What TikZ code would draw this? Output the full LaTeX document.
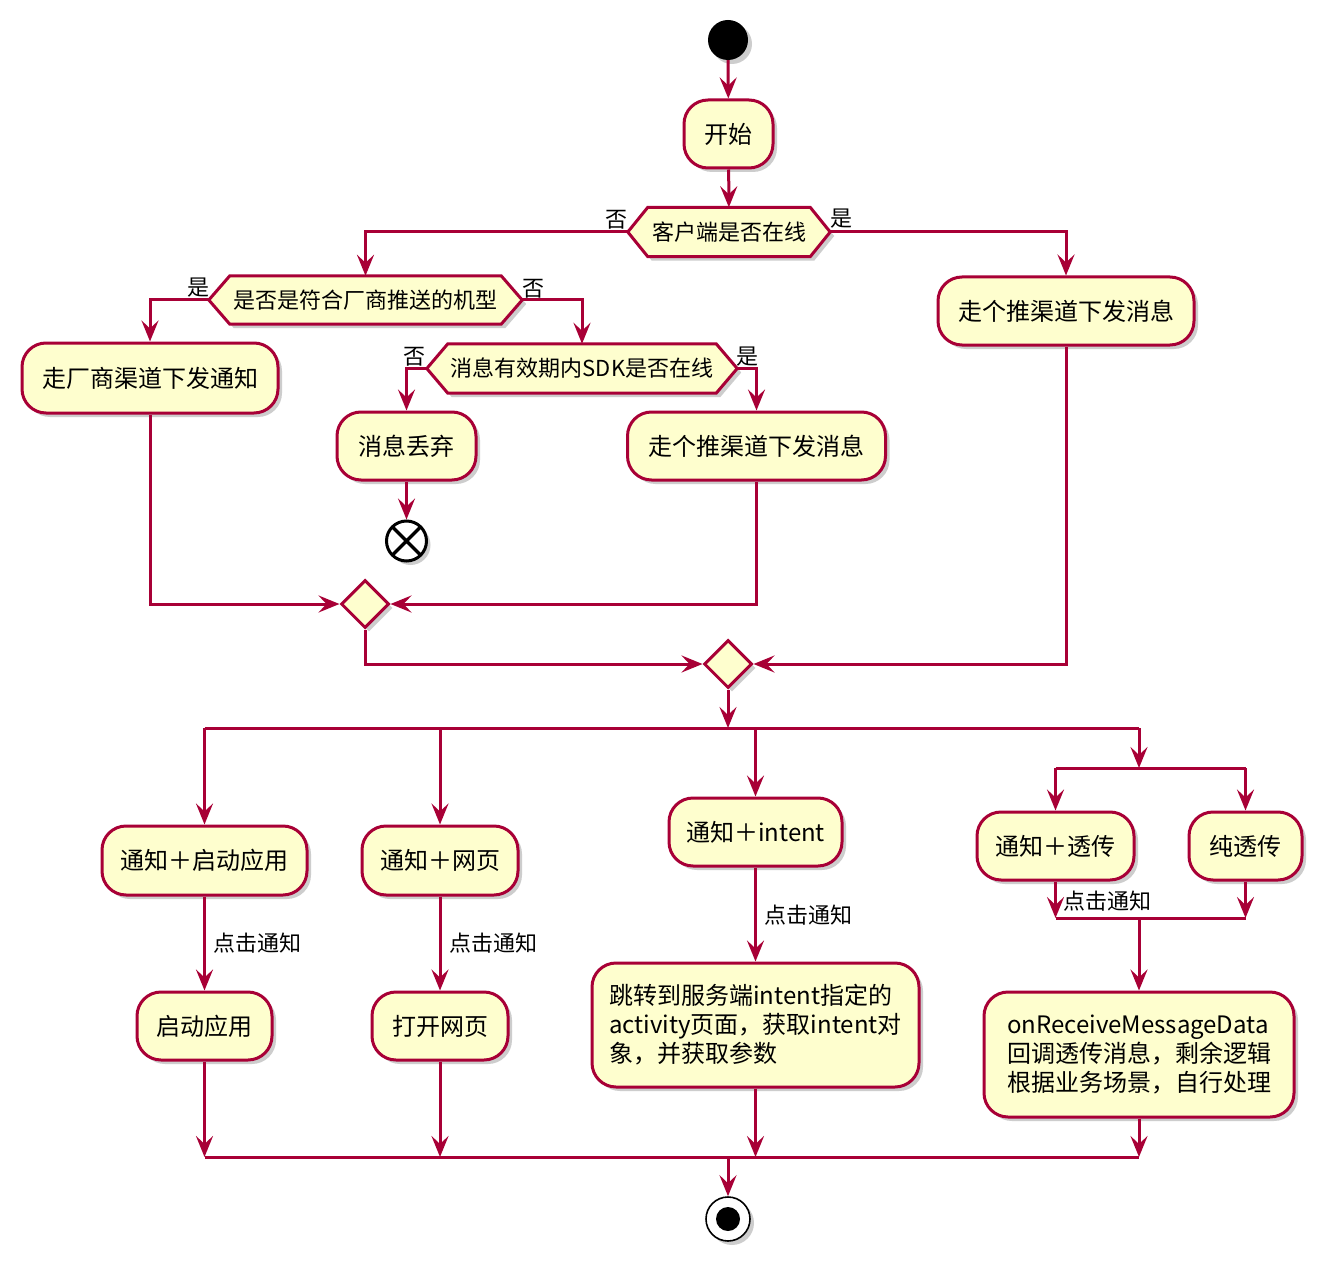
\documentclass[tikz,border=0pt]{standalone}
\usepackage{fontspec}
\setmainfont{Noto Sans CJK SC}
\usetikzlibrary{arrows.meta,shapes.geometric,shadows,calc}
\definecolor{pred}{HTML}{A80036}
\definecolor{pfill}{HTML}{FEFECE}
\pgfdeclarelayer{back}
\pgfdeclarelayer{bg}
\pgfsetlayers{back,bg,main}
\newcommand\hexshape[2]{%
  \begin{pgfonlayer}{bg}
  \path[hexsty] (#1.west) -- ([xshift=#2pt]#1.north west) -- ([xshift=-#2pt]#1.north east) -- (#1.east) -- ([xshift=-#2pt]#1.south east) -- ([xshift=#2pt]#1.south west) -- cycle;
  \end{pgfonlayer}}
\begin{document}
\begin{tikzpicture}[x=1pt,y=-1pt,
  shad/.style={drop shadow={shadow xshift=4pt,shadow yshift=-4pt,opacity=0.28,fill=black!70}},
  act/.style={draw=pred, fill=pfill, line width=3pt, rounded corners=24pt, shad, font=\fontsize{24}{29}\selectfont, inner sep=0pt, align=left},
  dec/.style={inner sep=0pt, font=\fontsize{22}{26}\selectfont},
  hexsty/.style={draw=pred, fill=pfill, line width=3pt, line join=miter, shad},
  merge/.style={diamond, draw=pred, fill=pfill, line width=3pt, minimum width=48pt, minimum height=48pt, inner sep=0pt, shad},
  ln/.style={draw=pred, line width=3pt},
  arr/.style={ln, -{Stealth[length=21pt,width=17pt,inset=8pt]}},
  lab/.style={inner sep=0pt, font=\fontsize{22}{26}\selectfont},
]
\begin{pgfonlayer}{back}
\fill[white] (0,0) rectangle (1333,1273);
\end{pgfonlayer}
\useasboundingbox (0,0) rectangle (1333,1273);

% start
\node[circle, fill=black, minimum size=40pt, inner sep=0pt, shad] (start) at (728,40) {};
\node[act, minimum width=89pt, minimum height=68pt] (s1) at (728.5,134) {开始};
\node[dec, minimum width=202pt, minimum height=49pt] (d1) at (729,232) {客户端是否在线};
\hexshape{d1}{20}
\node[act, minimum width=256pt, minimum height=68pt] (r1) at (1066,311) {走个推渠道下发消息};
\node[dec, minimum width=313pt, minimum height=48pt] (d2) at (365.5,300) {是否是符合厂商推送的机型};
\hexshape{d2}{21}
\node[act, minimum width=256pt, minimum height=70pt] (l1) at (150,378) {走厂商渠道下发通知};
\node[dec, minimum width=310pt, minimum height=49pt] (d3) at (582,368.5) {消息有效期内SDK是否在线};
\hexshape{d3}{21}
\node[act, minimum width=139pt, minimum height=68pt] (l2) at (406.5,446) {消息丢弃};
\node[act, minimum width=258pt, minimum height=68pt] (l3) at (756.5,446) {走个推渠道下发消息};
\node[circle, draw=black, line width=3pt, fill=white, minimum size=40pt, inner sep=0pt, shad,
  path picture={\draw[line width=3.2pt] (path picture bounding box.north west) -- (path picture bounding box.south east)
                 (path picture bounding box.north east) -- (path picture bounding box.south west);}] (x1) at (406.5,541) {};
\node[merge] (m1) at (365,604) {};
\node[merge] (m2) at (728,664) {};

% labels
\node[lab] (n1) at (616,220) {否};
\node[lab] (y1) at (841,219) {是};
\node[lab] (y2) at (198,288) {是};
\node[lab] (n2) at (533,289) {否};
\node[lab] (n3) at (414,357) {否};
\node[lab] (y3) at (747,357) {是};

% top connectors
\draw[arr] (start) -- (s1);
\draw[arr] (s1) -- (d1);
\draw[arr] (d1.west) -| (d2.north);
\draw[arr] (d1.east) -| (r1.north);
\draw[arr] (d2.west) -| (l1.north);
\draw[arr] (d2.east) -| (d3.north);
\draw[arr] (d3.west) -| (l2.north);
\draw[arr] (d3.east) -| (l3.north);
\draw[arr] (l2) -- (x1);
\draw[arr] (l1.south) |- (m1.west);
\draw[arr] (l3.south) |- (m1.east);
\draw[arr] (m1.south) |- (m2.west);
\draw[arr] (r1.south) |- (m2.east);

% fork
\coordinate (fk) at (728,728);
\coordinate (f1) at (204.5,728);
\coordinate (f2) at (440,728);
\coordinate (f3) at (755.5,728);
\coordinate (f4) at (1139,728);
\draw[arr] (m2.south) -- (fk);
\draw[ln] (f1) -- (f4);

\node[act, minimum width=205pt, minimum height=69pt] (a1) at (204.5,860.5) {通知＋启动应用};
\node[act, minimum width=156pt, minimum height=69pt] (a2) at (440,860.5) {通知＋网页};
\node[act, minimum width=173pt, minimum height=68pt] (a3) at (755.5,832) {通知＋intent};
\node[act, minimum width=157pt, minimum height=68pt] (a4) at (1055.5,846) {通知＋透传};
\node[act, minimum width=113pt, minimum height=68pt] (a5) at (1245.5,846) {纯透传};

\node[act, minimum width=135pt, minimum height=68pt] (b1) at (204.5,1026) {启动应用};
\node[act, minimum width=136pt, minimum height=68pt] (b2) at (440,1026) {打开网页};
\node[act, minimum width=327pt, minimum height=124pt] (b3) at (755.5,1025) {跳转到服务端intent指定的\\activity页面，获取intent对\\象，并获取参数};
\node[act, minimum width=310pt, minimum height=125pt] (b4) at (1139,1054.5) {onReceiveMessageData\\回调透传消息，剩余逻辑\\根据业务场景，自行处理};

\draw[arr] (f1) -- (a1.north);
\draw[arr] (f2) -- (a2.north);
\draw[arr] (f3) -- (a3.north);

% inner fork (col 4)
\coordinate (g0) at (1139,768);
\coordinate (g1) at (1055.5,768);
\coordinate (g2) at (1245.5,768);
\draw[arr] (f4) -- (g0);
\draw[ln] (g1) -- (g2);
\draw[arr] (g1) -- (a4.north);
\draw[arr] (g2) -- (a5.north);
\coordinate (h1) at (1055.5,918);
\coordinate (h2) at (1245.5,918);
\coordinate (h0) at (1139,918);
\draw[arr] (a4.south) -- (h1);
\draw[arr] (a5.south) -- (h2);
\draw[ln] (h1) -- (h2);
\draw[arr] (h0) -- (b4.north);

\draw[arr] (a1.south) -- (b1.north);
\draw[arr] (a2.south) -- (b2.north);
\draw[arr] (a3.south) -- (b3.north);

\node[lab, anchor=west] (c1) at (213,943) {点击通知};
\node[lab, anchor=west] (c2) at (449,943) {点击通知};
\node[lab, anchor=west] (c3) at (764,915) {点击通知};
\node[lab, anchor=west] (c4) at (1063,901) {点击通知};

% join
\coordinate (j1) at (204.5,1157);
\coordinate (j2) at (440,1157);
\coordinate (j3) at (755.5,1157);
\coordinate (j4) at (1139,1157);
\coordinate (jc) at (728,1157);
\draw[arr] (b1.south) -- (j1);
\draw[arr] (b2.south) -- (j2);
\draw[arr] (b3.south) -- (j3);
\draw[arr] (b4.south) -- (j4);
\draw[ln] (j1) -- (j4);

\node[circle, draw=black, line width=1.6pt, fill=white, minimum size=44pt, inner sep=0pt, shad,
  path picture={\fill[black] (path picture bounding box.center) circle (12pt);}] (end) at (728,1219) {};
\draw[arr] (jc) -- (end);
\end{tikzpicture}
\end{document}
